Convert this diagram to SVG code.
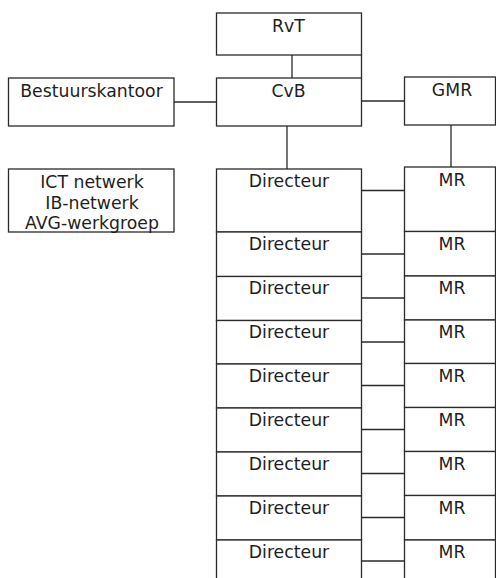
<svg xmlns="http://www.w3.org/2000/svg" width="496" height="578" viewBox="0 0 496 578">
<style>
rect{fill:#fff;stroke:#2a2a2a;stroke-width:1.3}
.c line{stroke:#2a2a2a;stroke-width:1.3}
text{font-family:"DejaVu Sans","Verdana",sans-serif;font-size:17.3px;fill:#1e1e1e;text-anchor:middle}
</style>
<rect x="0" y="0" width="496" height="578" style="fill:#fff;stroke:none"/>
<g class="c" id="connectors">
<line x1="292" y1="55" x2="292" y2="78"/>
<line x1="361.5" y1="55" x2="361.5" y2="78"/>
<line x1="174" y1="102" x2="216.5" y2="102"/>
<line x1="361.5" y1="101" x2="404.5" y2="101"/>
<line x1="287" y1="126" x2="287" y2="169"/>
<line x1="451" y1="125" x2="451" y2="167"/>
<line x1="361.5" y1="190.5" x2="404.5" y2="190.5"/>
<line x1="361.5" y1="254" x2="404.5" y2="254"/>
<line x1="361.5" y1="298" x2="404.5" y2="298"/>
<line x1="361.5" y1="342" x2="404.5" y2="342"/>
<line x1="361.5" y1="385.5" x2="404.5" y2="385.5"/>
<line x1="361.5" y1="429.5" x2="404.5" y2="429.5"/>
<line x1="361.5" y1="473.5" x2="404.5" y2="473.5"/>
<line x1="361.5" y1="517.5" x2="404.5" y2="517.5"/>
<line x1="361.5" y1="561" x2="404.5" y2="561"/>
</g>
<g id="rvt"><rect x="216.5" y="13" width="145" height="42"/><text x="288.5" y="32">RvT</text></g>
<g id="cvb"><rect x="216.5" y="78" width="145" height="48"/><text x="288.5" y="97">CvB</text></g>
<g id="bestuurskantoor"><rect x="8.5" y="78" width="165.5" height="48"/><text x="91.5" y="97">Bestuurskantoor</text></g>
<g id="gmr"><rect x="404.5" y="77" width="91" height="48"/><text x="452" y="96">GMR</text></g>
<g id="ict"><rect x="8.5" y="169" width="165.5" height="63"/><text x="92" y="188">ICT netwerk</text><text x="92" y="208.5">IB-netwerk</text><text x="92" y="229">AVG-werkgroep</text></g>
<g id="dir1"><rect x="216.5" y="169" width="145" height="63"/><text x="289" y="187">Directeur</text></g>
<g id="dir2"><rect x="216.5" y="232" width="145" height="44.5"/><text x="289" y="250">Directeur</text></g>
<g id="dir3"><rect x="216.5" y="276.5" width="145" height="44"/><text x="289" y="294">Directeur</text></g>
<g id="dir4"><rect x="216.5" y="320.5" width="145" height="43.5"/><text x="289" y="338">Directeur</text></g>
<g id="dir5"><rect x="216.5" y="364" width="145" height="44"/><text x="289" y="382">Directeur</text></g>
<g id="dir6"><rect x="216.5" y="408" width="145" height="44"/><text x="289" y="426">Directeur</text></g>
<g id="dir7"><rect x="216.5" y="452" width="145" height="44"/><text x="289" y="470">Directeur</text></g>
<g id="dir8"><rect x="216.5" y="496" width="145" height="44"/><text x="289" y="514">Directeur</text></g>
<g id="dir9"><rect x="216.5" y="540" width="145" height="60"/><text x="289" y="558">Directeur</text></g>
<g id="mr1"><rect x="404.5" y="167" width="91" height="64.5"/><text x="452" y="186">MR</text></g>
<g id="mr2"><rect x="404.5" y="231.5" width="91" height="44.5"/><text x="452" y="250">MR</text></g>
<g id="mr3"><rect x="404.5" y="276" width="91" height="44"/><text x="452" y="294">MR</text></g>
<g id="mr4"><rect x="404.5" y="320" width="91" height="43.5"/><text x="452" y="338">MR</text></g>
<g id="mr5"><rect x="404.5" y="363.5" width="91" height="44"/><text x="452" y="382">MR</text></g>
<g id="mr6"><rect x="404.5" y="407.5" width="91" height="44"/><text x="452" y="426">MR</text></g>
<g id="mr7"><rect x="404.5" y="451.5" width="91" height="44"/><text x="452" y="470">MR</text></g>
<g id="mr8"><rect x="404.5" y="495.5" width="91" height="44.5"/><text x="452" y="514">MR</text></g>
<g id="mr9"><rect x="404.5" y="540" width="91" height="60"/><text x="452" y="558">MR</text></g>
</svg>
